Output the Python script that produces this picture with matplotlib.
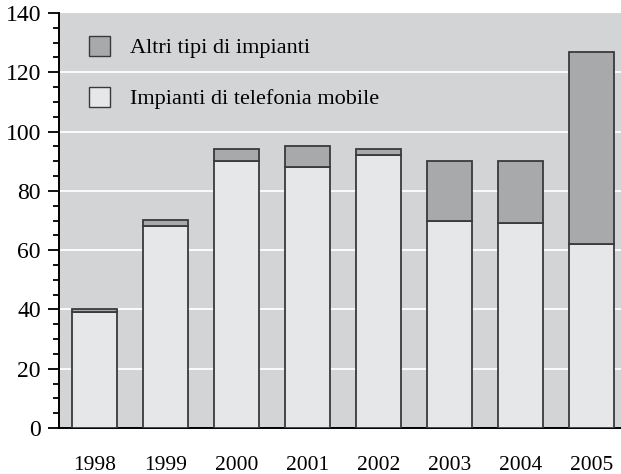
import numpy as np
import matplotlib
matplotlib.use('Agg')
import matplotlib.pyplot as plt
from matplotlib.patches import Patch

plt.rcParams['font.family'] = ['Liberation Serif', 'DejaVu Serif']

years = ['1998', '1999', '2000', '2001', '2002', '2003', '2004', '2005']
mobile = [39, 68, 90, 88, 92, 70, 69, 62]       # impianti di telefonia mobile
altri = [1, 2, 4, 7, 2, 20, 21, 65]             # altri tipi di impianti

fig = plt.figure(figsize=(6.21, 4.74), dpi=100)
ax = fig.add_axes([59/621, 1-428/474, 562/621, 415/474])
ax.set_facecolor('#d3d4d6')

x = np.arange(len(years))
w = 0.634
ax.bar(x, mobile, w, color='#e6e7e8', edgecolor='#3a3a3a', linewidth=1.3, zorder=3)
ax.bar(x, altri, w, bottom=mobile, color='#a8a9ab', edgecolor='#3a3a3a', linewidth=1.3, zorder=3)

ax.set_xlim(-0.5, 7.415)
ax.set_ylim(0, 140)
ax.set_yticks(np.arange(0, 141, 20))
ax.set_yticks(np.arange(0, 141, 5), minor=True)
for g in range(20, 140, 20):
    ax.axhline(g, color='white', lw=1.3, zorder=1)

ax.set_xticks(x)
ax.set_xticklabels(years)
ax.tick_params(axis='x', length=0, pad=20.5, labelsize=15.5)
ax.tick_params(axis='y', which='major', length=8, width=1.3, labelsize=17, pad=5)
ax.tick_params(axis='y', which='minor', length=4.3, width=1.3)

for s in ['top', 'right']:
    ax.spines[s].set_visible(False)
ax.spines['left'].set_linewidth(1.4)
ax.spines['bottom'].set_linewidth(1.4)

handles = [Patch(facecolor='#a8a9ab', edgecolor='#3a3a3a', label='Altri tipi di impianti'),
           Patch(facecolor='#e6e7e8', edgecolor='#3a3a3a', label='Impianti di telefonia mobile')]
ax.legend(handles=handles, loc='upper left', frameon=False, fontsize=16,
          handlelength=0.95, handleheight=1.0, handletextpad=0.9, labelspacing=1.28,
          borderpad=0, borderaxespad=0, bbox_to_anchor=(0.053, 0.945))

fig.savefig('out.png', dpi=100)
